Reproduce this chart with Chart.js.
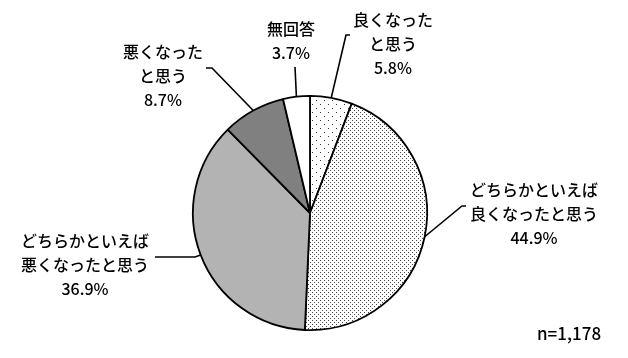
<!DOCTYPE html>
<html>
<head>
<meta charset="utf-8">
<script src="https://cdn.jsdelivr.net/npm/chart.js@4/dist/chart.umd.min.js"></script>
<style>
html,body{margin:0;padding:0;background:#fff;}
#wrap{position:relative;width:628px;height:358px;}
</style>
</head>
<body>
<div id="wrap"><canvas id="c" width="628" height="358"></canvas></div>
<script>
// ---- data ----
const categories = ['良くなったと思う', 'どちらかといえば良くなったと思う', 'どちらかといえば悪くなったと思う', '悪くなったと思う', '無回答'];
const labelLines = [['良くなった', 'と思う'], ['どちらかといえば', '良くなったと思う'], ['どちらかといえば', '悪くなったと思う'], ['悪くなった', 'と思う'], ['無回答']];
const values = [5.8, 44.9, 36.9, 8.7, 3.7];
const sampleNote = 'n=1,178';

// ---- styles ----
function dotPattern(size, pts, color) {
  const c = document.createElement('canvas');
  c.width = size; c.height = size;
  const g = c.getContext('2d');
  g.fillStyle = '#fff'; g.fillRect(0, 0, size, size);
  g.fillStyle = color;
  pts.forEach(p => g.fillRect(p[0], p[1], 1, 1));
  return g.createPattern(c, 'repeat');
}
const fills = [
  dotPattern(8, [[0, 0], [4, 4]], '#333'),
  dotPattern(4, [[0, 0], [2, 2]], '#444'),
  '#b3b3b3',
  '#808080',
  '#ffffff'
];

// label layout: first line center, leader elbow and end
const labelLayout = [
  {x: 393, y: 20, elbow: [346, 35], end: [350, 35]},
  {x: 534, y: 190, elbow: [462, 206], end: [466, 206]},
  {x: 85, y: 241, elbow: [195, 257], end: [155, 257]},
  {x: 163, y: 52, elbow: [212, 68], end: [206, 68]},
  {x: 291, y: 29, elbow: [295, 67], end: [295, 67]}
];
const lineGap = 24;
const FONT = '"Noto Sans CJK JP", "Noto Sans", sans-serif';

const labelPlugin = {
  id: 'labels',
  afterDraw(chart) {
    const ctx = chart.ctx;
    const meta = chart.getDatasetMeta(0);
    ctx.save();
    ctx.strokeStyle = '#000';
    ctx.lineWidth = 1.6;
    meta.data.forEach((arc, i) => {
      const p = arc.getProps(['x', 'y', 'startAngle', 'endAngle', 'outerRadius'], true);
      const mid = (p.startAngle + p.endAngle) / 2;
      const sx = p.x + Math.cos(mid) * p.outerRadius;
      const sy = p.y + Math.sin(mid) * p.outerRadius;
      const L = labelLayout[i];
      ctx.beginPath();
      ctx.moveTo(sx, sy);
      ctx.lineTo(L.elbow[0], L.elbow[1]);
      ctx.lineTo(L.end[0], L.end[1]);
      ctx.stroke();
      ctx.fillStyle = '#000';
      ctx.textAlign = 'center';
      ctx.textBaseline = 'middle';
      const lines = labelLines[i].concat([values[i].toFixed(1) + '%']);
      lines.forEach((t, k) => {
        ctx.font = '500 16px ' + FONT;
        ctx.fillText(t, L.x, L.y + k * lineGap);
      });
    });
    ctx.font = '500 17px ' + FONT;
    ctx.textAlign = 'left';
    ctx.fillText(sampleNote, 537, 334);
    ctx.restore();
  }
};

new Chart(document.getElementById('c'), {
  type: 'pie',
  data: {
    labels: categories,
    datasets: [{
      data: values,
      backgroundColor: fills,
      borderColor: '#000',
      borderWidth: 1.8
    }]
  },
  options: {
    responsive: false,
    animation: false,
    layout: {padding: {top: 95, bottom: 27, left: 192, right: 200}},
    plugins: {legend: {display: false}, tooltip: {enabled: false}}
  },
  plugins: [labelPlugin]
});
</script>
</body>
</html>
